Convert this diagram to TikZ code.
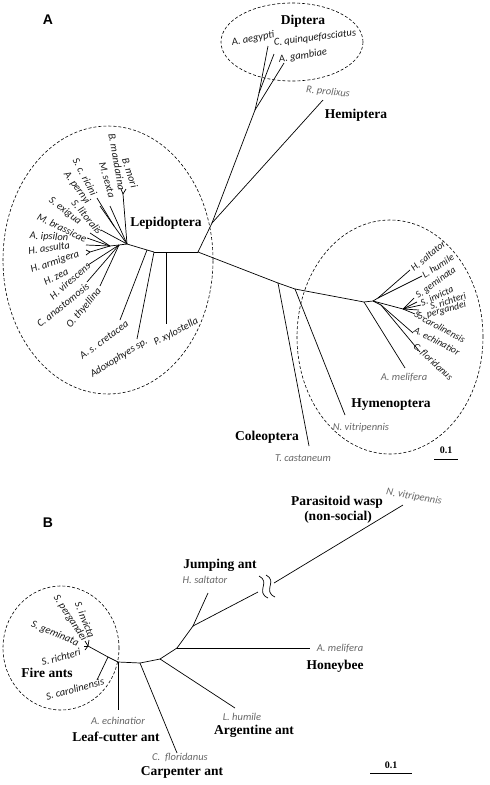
\documentclass[tikz,border=0pt]{standalone}
\usepackage{fontspec}
\setmainfont{Liberation Serif}
\newfontfamily\spfont{Carlito}
\newfontfamily\panelfont{Liberation Sans}
\usetikzlibrary{calc, positioning}

\tikzset{
  branch/.style={line width=0.7pt},
  clade/.style={densely dashed, line width=0.6pt},
  sp/.style={font=\spfont\itshape\fontsize{10.5}{12}\selectfont, inner sep=0pt, text=black!90},
  spsmall/.style={sp, font=\spfont\itshape\fontsize{9.8}{11}\selectfont},
  spgray/.style={sp, text=black!60},
  grp/.style={font=\bfseries\fontsize{13.5}{15}\selectfont, inner sep=0pt},
  panel/.style={font=\panelfont\bfseries\fontsize{14}{16}\selectfont, inner sep=0pt},
  scalelab/.style={font=\bfseries\fontsize{10}{12}\selectfont, inner sep=0pt},
}

\begin{document}
\begin{tikzpicture}[x=1pt, y=-1pt]
\useasboundingbox (0,0) rectangle (490,785);

%% ---------- panel A ----------
\node[panel] (pA) at (48,20) {A};

% backbone and Diptera / Hemiptera
\coordinate (rootA) at (198,252);
\coordinate (dh)    at (212,223);
\coordinate (dip)   at (255,110);
\coordinate (dip2)  at (259,93);
\coordinate (aae)   at (268,46);
\coordinate (cqu)   at (274,54);
\coordinate (aga)   at (284,63);
\coordinate (rpr)   at (323,100);

% Lepidoptera
\coordinate (lp3) at (166,252);
\coordinate (lp2) at (154,252);
\coordinate (lp1) at (147,250);
\coordinate (lp0) at (127,244);
\coordinate (pxy) at (166,324);
\coordinate (ado) at (137,339);
\coordinate (asc) at (120,320);
\coordinate (bmb) at (123,194);
\coordinate (bmo) at (126,189);
\coordinate (bma) at (121,189);
\coordinate (msx) at (110,206);
\coordinate (rp)  at (114,226);
\coordinate (scr) at (97,198);
\coordinate (ape) at (100,206);
\coordinate (slt) at (101,230);
\coordinate (lq)  at (119,245);
\coordinate (ln)  at (110,246);
\coordinate (sex) at (90,233);
\coordinate (mbr) at (87,238);
\coordinate (hass) at (86,245);
\coordinate (ha)  at (90,252);
\coordinate (harm) at (86,250);
\coordinate (hzea) at (86,255);
\coordinate (hvi) at (88,265);
\coordinate (can) at (87,282);
\coordinate (oth) at (100,286);

% Coleoptera and Hymenoptera
\coordinate (col)  at (278,283);
\coordinate (tca)  at (309,446);
\coordinate (hy0)  at (295,289);
\coordinate (nvi)  at (345,415);
\coordinate (hyA)  at (364,302);
\coordinate (ame)  at (405,368);
\coordinate (hyB)  at (373,301);
\coordinate (hyD)  at (378,298);
\coordinate (hsa)  at (410,270);
\coordinate (lhu)  at (422,276);
\coordinate (fa)   at (403,309);
\coordinate (sgem) at (414,298);
\coordinate (sinv) at (417,302);
\coordinate (sric) at (421,305);
\coordinate (sper) at (419,310);
\coordinate (scar) at (415,314);
\coordinate (hyC)  at (381,305);
\coordinate (aec)  at (413,333);
\coordinate (cfl)  at (420,352);

\foreach \a/\b in {rootA/dh, dh/dip, dip/dip2, dip2/aae, dip2/cqu, dip/aga, dh/rpr,
    rootA/lp3, lp3/pxy, lp3/lp2, lp2/ado, lp2/lp1, lp1/asc, lp1/lp0,
    lp0/bmb, bmb/bmo, bmb/bma, lp0/msx, lp0/rp, rp/scr, rp/ape, lp0/slt,
    lp0/lq, lq/ln, ln/sex, ln/mbr, ln/hass, ln/ha, ha/harm, ha/hzea,
    lq/hvi, lq/can, lq/oth,
    rootA/col, col/tca, col/hy0, hy0/nvi, hy0/hyA, hyA/ame, hyA/hyB,
    hyB/hyD, hyD/hsa, hyD/lhu, hyB/fa, fa/sgem, fa/sinv, fa/sric, fa/sper, fa/scar,
    hyB/hyC, hyC/aec, hyC/cfl}
  \draw[branch] (\a) -- (\b);

% clade outlines
\draw[clade] (292,42) ellipse [x radius=71pt, y radius=39pt];
\draw[clade] (108,260) ellipse [x radius=105pt, y radius=134pt];
\draw[clade] (390,337) ellipse [x radius=93pt, y radius=117pt];

% group names
\node[grp] (gDip) at (303,21)  {Diptera};
\node[grp] (gHem) at (356,115) {Hemiptera};
\node[grp] (gLep) at (166,223) {Lepidoptera};
\node[grp] (gCol) at (267,437) {Coleoptera};
\node[grp] (gHym) at (391,405) {Hymenoptera};

% species
\node[sp, rotate=10] (tAae) at (253,39) {A. aegypti};
\node[sp, rotate=7]  (tCqu) at (315,38) {C. quinquefasciatus};
\node[sp, rotate=9]  (tAga) at (303,56) {A. gambiae};
\node[spgray, rotate=-6] (tRpr) at (328,92) {R. prolixus};

\node[sp, rotate=-72] (tBmo) at (130,173) {B. mori};
\node[sp, rotate=-80] (tBma) at (117,162) {B. mandarina};
\node[sp, rotate=-74] (tMsx) at (107,180) {M. sexta};
\node[sp, rotate=-62] (tScr) at (85,177)  {S. c. ricini};
\node[sp, rotate=-54] (tApe) at (77,188)  {A. pernyi};
\node[sp, rotate=-50] (tSlt) at (87,217)  {S. litoralis};
\node[sp, rotate=-37] (tSex) at (65,211)  {S. exigua};
\node[sp, rotate=-26] (tMbr) at (62,228)  {M. brassicae};
\node[sp, rotate=-3]  (tAip) at (49,237)  {A. ipsilon};
\node[sp, rotate=8]   (tHas) at (49,248)  {H. assulta};
\node[sp, rotate=19]  (tHar) at (55,262)  {H. armigera};
\node[sp, rotate=27]  (tHze) at (56,277)  {H. zea};
\node[sp, rotate=41]  (tHvi) at (70,281)  {H. virescens};
\node[sp, rotate=39]  (tCan) at (63,305)  {C. anastomosis};
\node[sp, rotate=50]  (tOth) at (84,308)  {O. thyellina};
\node[sp, rotate=36]  (tAsc) at (104,340) {A. s. cretacea};
\node[sp, rotate=32]  (tAdo) at (119,358) {Adoxophyes sp.};
\node[sp, rotate=28]  (tPxy) at (176,332) {P. xylostella};

\node[spgray] (tTca) at (303,458) {T. castaneum};
\node[spgray] (tNvi) at (361,428) {N. vitripennis};
\node[spgray] (tAme) at (404,377) {A. melifera};
\node[spsmall, rotate=40]  (tHsa) at (428,256) {H. saltator};
\node[spsmall, rotate=33]  (tLhu) at (438,266) {L. humile};
\node[spsmall, rotate=36]  (tSge) at (436,283) {S. geminata};
\node[spsmall, rotate=25]  (tSin) at (437,296) {S. invicta};
\node[spsmall, rotate=18]  (tSri) at (448,301) {S. richteri};
\node[spsmall, rotate=15]  (tSpe) at (442,311) {S. pergandei};
\node[spsmall, rotate=-28] (tSca) at (440,327) {S. carolinensis};
\node[spsmall, rotate=-28] (tAec) at (437,341) {A. echinatior};
\node[spsmall, rotate=-43] (tCfl) at (433,362) {C. floridanus};

% scale bar
\coordinate (sbA1) at (434,459);
\coordinate (sbA2) at (458,459);
\draw[branch] (sbA1) -- (sbA2);
\node[scalelab] (sbA) at (446,450) {0.1};

%% ---------- panel B ----------
\node[panel] (pB) at (48,523) {B};

\coordinate (fk)   at (88,646);
\coordinate (fpg)  at (85,641);
\coordinate (fin)  at (89,640);
\coordinate (fge)  at (84,646);
\coordinate (fri)  at (85,650);
\coordinate (fc)   at (108,657);
\coordinate (fca)  at (97,680);
\coordinate (fs)   at (118,662);
\coordinate (aecB) at (118,710);
\coordinate (b1)   at (140,663);
\coordinate (cflB) at (177,753);
\coordinate (b2)   at (160,659);
\coordinate (lhuB) at (235,708);
\coordinate (b3)   at (177,648);
\coordinate (ameB) at (310,648);
\coordinate (b4)   at (193,626);
\coordinate (hsaB) at (208,593);
\coordinate (brk1) at (258,592);
\coordinate (brk2) at (274,583);
\coordinate (nviB) at (403,505);

\foreach \a/\b in {fk/fpg, fk/fin, fk/fge, fk/fri, fk/fc, fc/fca, fc/fs,
    fs/aecB, fs/b1, b1/cflB, b1/b2, b2/lhuB, b2/b3, b3/ameB, b3/b4,
    b4/hsaB, b4/brk1, brk2/nviB}
  \draw[branch] (\a) -- (\b);

% break in the long branch
\draw[branch] (259,576) .. controls (271,582) and (255,592) .. (268,598);
\draw[branch] (266,575) .. controls (278,581) and (262,591) .. (275,597);

\draw[clade] (61,648) ellipse [x radius=58pt, y radius=62pt];

\node[sp, rotate=-68] (uSin) at (85,620) {S. invicta};
\node[sp, rotate=-57] (uSpe) at (70,618) {S. pergandei};
\node[sp, rotate=-23] (uSge) at (55,634) {S. geminata};
\node[sp, rotate=15]  (uSri) at (61,657) {S. richteri};
\node[sp, rotate=15]  (uSca) at (75,689) {S. carolinensis};
\node[grp] (hFire) at (47,673) {Fire ants};

\node[spgray] (uAec) at (118,721) {A. echinatior};
\node[grp] (hLeaf) at (116,737) {Leaf-cutter ant};
\node[spgray] (uCfl) at (180,757) {C.\ \ floridanus};
\node[grp] (hCarp) at (182,772) {Carpenter ant};
\node[spgray] (uLhu) at (242,717) {L. humile};
\node[grp] (hArg) at (254,731) {Argentine ant};
\node[spgray] (uAme) at (340,648) {A. melifera};
\node[grp] (hHon) at (335,666) {Honeybee};
\node[spgray] (uHsa) at (205,580) {H. saltator};
\node[grp] (hJump) at (220,565) {Jumping ant};
\node[spgray, rotate=-10] (uNvi) at (414,497) {N. vitripennis};
\node[grp] (hPar) at (337,502) {Parasitoid wasp};
\node[grp] (hNon) at (338,517) {(non-social)};

\coordinate (sbB1) at (370,773);
\coordinate (sbB2) at (412,773);
\draw[branch] (sbB1) -- (sbB2);
\node[scalelab] (sbB) at (391,765) {0.1};
\end{tikzpicture}
\end{document}
